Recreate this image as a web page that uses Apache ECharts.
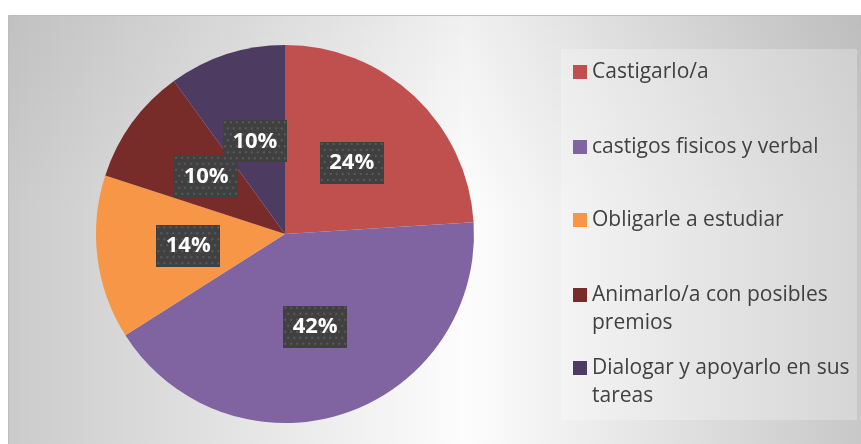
<!DOCTYPE html>
<html>
<head>
<meta charset="utf-8">
<script src="https://cdn.jsdelivr.net/npm/echarts@6/dist/echarts.min.js"></script>
<style>
  html, body { margin: 0; padding: 0; background: #fff; }
  #main { width: 861px; height: 444px; }
</style>
</head>
<body>
<div id="main"></div>
<script>
var categories = ['Castigarlo/a', 'castigos fisicos y verbal', 'Obligarle a estudiar',
  'Animarlo/a con posibles premios', 'Dialogar y apoyarlo en sus tareas'];
var percents = [24, 42, 14, 10, 10];
var sliceColors = ['#c0504d', '#8064a2', '#f79646', '#772c2a', '#4d3b62'];

var legendFont = '21px "Open Sans"';
var legendWidth = 262;
var lineH = 28;

// dark dotted box behind the percentages
function dotBox(w, h) {
  var c = document.createElement('canvas');
  c.width = w; c.height = h;
  var ctx = c.getContext('2d');
  ctx.fillStyle = '#404040';
  ctx.fillRect(0, 0, w, h);
  ctx.fillStyle = '#5a5a5a';
  for (var y = 1, row = 0; y < h; y += 6, row++) {
    for (var x = 1 + (row % 2) * 3; x < w; x += 6) {
      ctx.fillRect(x, y, 2, 2);
    }
  }
  return c;
}
var boxImg = dotBox(64, 42);

// word-wrap legend names so the square sits on the first line
var measure = document.createElement('canvas').getContext('2d');
measure.font = legendFont;
function wrap(text) {
  var words = text.split(' '), lines = [], cur = '';
  words.forEach(function (w) {
    var t = cur ? cur + ' ' + w : w;
    if (cur && measure.measureText(t).width > legendWidth) { lines.push(cur); cur = w; }
    else cur = t;
  });
  lines.push(cur);
  return lines;
}

var firstLineY = [72, 147, 220, 295, 368];
var legends = categories.map(function (name, i) {
  var lines = wrap(name);
  var n = lines.length;
  // blank lines on top keep the icon (centred on the block) beside line one
  var pad = [];
  for (var k = 1; k < n; k++) pad.push(' ');
  var txt = pad.concat(lines).join('\n');
  return {
    data: [name],
    orient: 'vertical',
    left: 573,
    top: firstLineY[i] - lineH * (2 * n - 1) / 2,
    padding: 0,
    icon: 'rect',
    itemWidth: 14,
    itemHeight: 14,
    selectedMode: false,
    formatter: function () { return txt; },
    textStyle: {
      color: '#404040',
      fontFamily: 'Open Sans',
      fontSize: 21,
      lineHeight: lineH
    }
  };
});

var myChart = echarts.init(document.getElementById('main'));

var option = {
  animation: false,
  color: sliceColors,
  graphic: [
    {
      type: 'rect', z: -10, silent: true,
      shape: { x: 8.5, y: 15.5, width: 880, height: 460 },
      style: {
        fill: new echarts.graphic.LinearGradient(0, 0, 1, 0, [
          { offset: 0, color: '#cbcbcb' },
          { offset: 0.52, color: '#fdfdfd' },
          { offset: 1, color: '#c4c4c4' }
        ]),
        stroke: '#bdbdbd', lineWidth: 1
      }
    },
    {
      type: 'rect', z: -9, silent: true,
      shape: { x: 9, y: 16, width: 880, height: 200 },
      style: {
        fill: new echarts.graphic.LinearGradient(0, 0, 0, 1, [
          { offset: 0, color: 'rgba(0,0,0,0.05)' },
          { offset: 1, color: 'rgba(0,0,0,0)' }
        ])
      }
    },
    {
      type: 'rect', z: -8, silent: true,
      shape: { x: 561, y: 49, width: 296, height: 371 },
      style: { fill: 'rgba(255,255,255,0.25)' }
    }
  ],
  legend: legends,
  series: [
    {
      type: 'pie',
      center: [285, 234],
      radius: 189,
      startAngle: 90,
      clockwise: true,
      avoidLabelOverlap: false,
      itemStyle: { borderWidth: 0 },
      emphasis: { disabled: true },
      labelLayout: { hideOverlap: false },
      label: {
        show: true,
        position: 'inside',
        formatter: '{c}%',
        color: '#fff',
        fontFamily: 'Open Sans',
        fontWeight: 'bold',
        fontSize: 22,
        lineHeight: 22,
        width: 50,
        height: 22,
        overflow: 'none',
        align: 'center',
        padding: [10, 7],
        backgroundColor: { image: boxImg },
        shadowColor: 'rgba(0,0,0,0.55)',
        shadowBlur: 6,
        shadowOffsetX: 3,
        shadowOffsetY: 3
      },
      labelLine: { show: false },
      data: categories.map(function (c, i) { return { name: c, value: percents[i] }; })
    }
  ]
};

myChart.setOption(option);
</script>
</body>
</html>
